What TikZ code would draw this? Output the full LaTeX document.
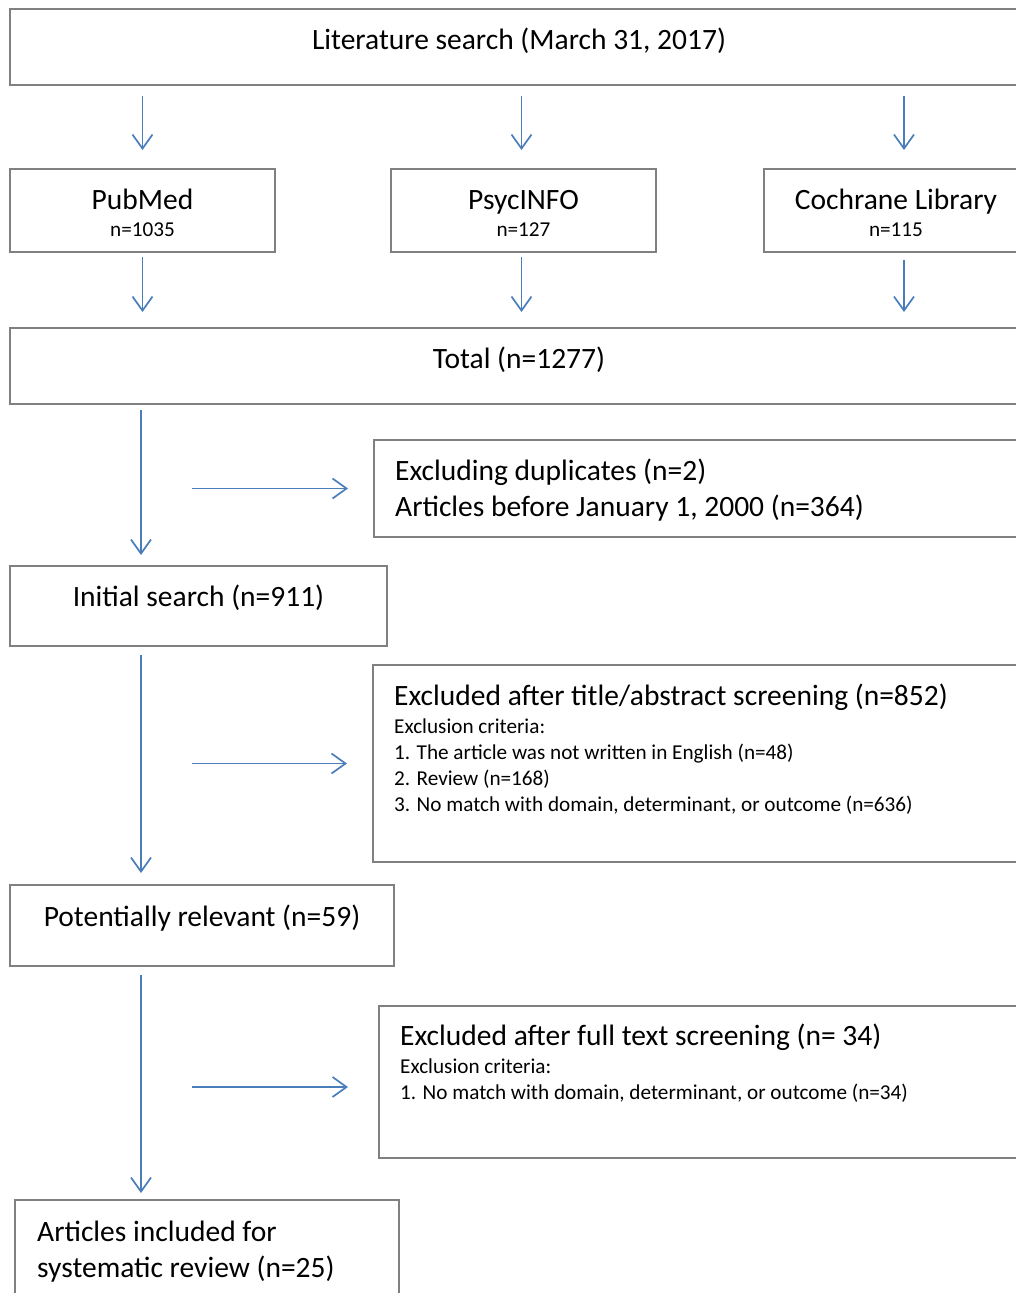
\documentclass[tikz,border=0pt]{standalone}
\usepackage{fontspec}
\setmainfont{Carlito}
\usetikzlibrary{arrows.meta,calc}
\definecolor{arrowblue}{RGB}{74,126,187}
\definecolor{boxgray}{RGB}{128,128,128}
\tikzset{
	box/.style={draw=boxgray, line width=1.6pt, anchor=north west, inner sep=0pt, outer sep=0pt},
	flow/.style={draw=arrowblue, line width=1.7pt, -{Straight Barb[length=14pt,width=20pt,line width=1.7pt]}},
	bigtext/.style={font=\fontsize{29.5}{36}\selectfont, inner sep=0pt, anchor=base},
	smalltext/.style={font=\fontsize{21.2}{26}\selectfont, inner sep=0pt, anchor=base},
}
\begin{document}
\begin{tikzpicture}[x=1pt, y=-1pt]
		%%%%% START %%%%%
		\useasboundingbox (0,0) rectangle (1016,1293);
		\clip (0,0) rectangle (1016,1293);
		
		% boxes
		\node[box, minimum width=1018pt, minimum height=76pt] (lit) at (10,9) {};
		\node[box, minimum width=265pt, minimum height=83pt] (pub) at (10,169) {};
		\node[box, minimum width=265pt, minimum height=83pt] (psy) at (391,169) {};
		\node[box, minimum width=264pt, minimum height=83pt] (coch) at (764,169) {};
		\node[box, minimum width=1018pt, minimum height=76pt] (tot) at (10,328) {};
		\node[box, minimum width=654pt, minimum height=97pt] (excl1) at (374,440) {};
		\node[box, minimum width=377pt, minimum height=80pt] (init) at (10,566) {};
		\node[box, minimum width=655pt, minimum height=197pt] (excl2) at (373,665) {};
		\node[box, minimum width=384pt, minimum height=81pt] (pot) at (10,885) {};
		\node[box, minimum width=649pt, minimum height=152pt] (excl3) at (379,1006) {};
		\node[box, minimum width=384pt, minimum height=110pt] (incl) at (15,1200) {};
		
		% texts (base of a multi-line node = its last line)
		\node[bigtext] (littext) at ([yshift=-40pt]lit.north) {Literature search (March 31, 2017)};
		\node[bigtext] (pubname) at ([yshift=-40pt]pub.north) {PubMed};
		\node[smalltext] (pubn) at ([yshift=-67pt]pub.north) {n=1035};
		\node[bigtext] (psyname) at ([yshift=-40pt]psy.north) {PsycINFO};
		\node[smalltext] (psyn) at ([yshift=-67pt]psy.north) {n=127};
		\node[bigtext] (cochname) at ([yshift=-40pt]coch.north) {Cochrane Library};
		\node[smalltext] (cochn) at ([yshift=-67pt]coch.north) {n=115};
		\node[bigtext] (tottext) at ([yshift=-40pt]tot.north) {Total (n=1277)};
		\node[bigtext, anchor=base west, align=left] (excl1text) at ([xshift=21pt,yshift=-76pt]excl1.north west) {Excluding duplicates (n=2)\\Articles before January 1, 2000 (n=364)};
		\node[bigtext] (inittext) at ([yshift=-40pt]init.north) {Initial search (n=911)};
		\node[bigtext, anchor=base west] (excl2head) at ([xshift=21pt,yshift=-40pt]excl2.north west) {Excluded after title/abstract screening (n=852)};
		\node[smalltext, anchor=base west, align=left] (excl2crit) at ([xshift=21pt,yshift=-146pt]excl2.north west) {Exclusion criteria:\\1. The article was not written in English (n=48)\\2. Review (n=168)\\3. No match with domain, determinant, or outcome (n=636)};
		\node[bigtext] (pottext) at ([yshift=-41pt]pot.north) {Potentially relevant (n=59)};
		\node[bigtext, anchor=base west] (excl3head) at ([xshift=21pt,yshift=-39pt]excl3.north west) {Excluded after full text screening (n= 34)};
		\node[smalltext, anchor=base west, align=left] (excl3crit) at ([xshift=21pt,yshift=-93pt]excl3.north west) {Exclusion criteria:\\1. No match with domain, determinant, or outcome (n=34)};
		\node[bigtext, anchor=base west, align=left] (incltext) at ([xshift=22pt,yshift=-77pt]incl.north west) {Articles included for\\systematic review (n=25)};
		
		% arrows
		\coordinate (trunk) at (141,0);
		\draw[flow] ([yshift=-11pt]lit.south -| pub.north) -- ([yshift=19pt]pub.north);
		\draw[flow] ([xshift=-2pt,yshift=-11pt]lit.south -| psy.north) -- ([xshift=-2pt,yshift=19pt]psy.north);
		\draw[flow] ([xshift=8pt,yshift=-11pt]lit.south -| coch.north) -- ([xshift=8pt,yshift=19pt]coch.north);
		\draw[flow] ([yshift=-5pt]pub.south) -- ([yshift=16pt]tot.north -| pub.south);
		\draw[flow] ([xshift=-2pt,yshift=-5pt]psy.south) -- ([xshift=-2pt,yshift=16pt]tot.north -| psy.south);
		\draw[flow] ([xshift=8pt,yshift=-8pt]coch.south) -- ([xshift=8pt,yshift=16pt]tot.north -| coch.south);
		
		\draw[flow] ([yshift=-6pt]tot.south -| trunk) -- ([yshift=11pt]init.north -| trunk);
		\draw[flow] ([xshift=51pt]excl1.west -| trunk) -- ([xshift=-26pt]excl1.west);
		\draw[flow] ([yshift=-9pt]init.south -| trunk) -- ([yshift=12pt]pot.north -| trunk);
		\draw[flow] ([xshift=51pt]excl2.west -| trunk) -- ([xshift=-26pt]excl2.west);
		\draw[flow] ([yshift=-9pt]pot.south -| trunk) -- ([yshift=7pt]incl.north -| trunk);
		\draw[flow] ([xshift=51pt,yshift=-5pt]excl3.west -| trunk) -- ([xshift=-31pt,yshift=-5pt]excl3.west);
		%%%%% END %%%%%
\end{tikzpicture}
\end{document}
